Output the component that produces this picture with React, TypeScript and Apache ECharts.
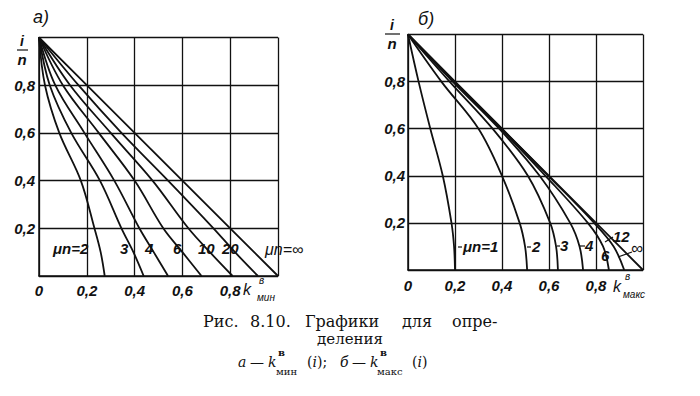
import React, { useEffect, useRef } from "react";
import * as echarts from "echarts";

// y levels (i/n) at which the curves were read
const Y_LEVELS = [1, 0.8, 0.6, 0.4, 0.2, 0.1, 0];

// Chart a: k_min^в at each Y level, per μn
const A_LABELS = ["2", "3", "4", "6", "10", "20", "∞"];
const A_MU2 = [0, 0.025, 0.085, 0.175, 0.232, 0.258, 0.275];
const A_MU3 = [0, 0.045, 0.135, 0.255, 0.345, 0.395, 0.438];
const A_MU4 = [0, 0.068, 0.19, 0.315, 0.42, 0.48, 0.54];
const A_MU6 = [0, 0.1, 0.25, 0.4, 0.52, 0.6, 0.68];
const A_MU10 = [0, 0.13, 0.3, 0.475, 0.625, 0.715, 0.81];
const A_MU20 = [0, 0.165, 0.345, 0.54, 0.73, 0.82, 0.916];
const A_INF = [0, 0.2, 0.4, 0.6, 0.8, 0.9, 1.0];

// Chart б: k_max^в at each Y level, per μn
const B_LABELS = ["1", "2", "3", "4", "6", "12", "∞"];
const B_MU1 = [0, 0.045, 0.095, 0.148, 0.185, 0.196, 0.2];
const B_MU2 = [0, 0.142, 0.3, 0.4, 0.475, 0.498, 0.507];
const B_MU3 = [0, 0.177, 0.36, 0.51, 0.605, 0.63, 0.638];
const B_MU4 = [0, 0.19, 0.388, 0.56, 0.69, 0.73, 0.745];
const B_MU6 = [0, 0.196, 0.395, 0.585, 0.765, 0.83, 0.855];
const B_MU12 = [0, 0.199, 0.399, 0.597, 0.792, 0.875, 0.92];
const B_INF = [0, 0.2, 0.4, 0.6, 0.8, 0.9, 1.0];

const A_SERIES = [A_MU2, A_MU3, A_MU4, A_MU6, A_MU10, A_MU20, A_INF];
const B_SERIES = [B_MU1, B_MU2, B_MU3, B_MU4, B_MU6, B_MU12, B_INF];

const LBL = "'Liberation Sans', Arimo, 'DejaVu Sans', sans-serif";
const CAP = "'DejaVu Serif', 'Liberation Serif', serif";
const INK = "#111";

const fmt = (v: number) => (v === 0 ? "0" : v.toFixed(1).replace(".", ","));

function axisBase(extra: any) {
  return {
    type: "value",
    min: 0,
    max: 1,
    interval: 0.2,
    axisLine: { show: true, lineStyle: { color: INK, width: 1.5 } },
    axisTick: { show: false },
    splitLine: { show: true, lineStyle: { color: INK, width: 1.3 } },
    ...extra,
  };
}

function txt(text: string, x: number, y: number, opts: any = {}) {
  return {
    type: "text",
    x,
    y,
    silent: true,
    style: {
      text,
      fill: INK,
      fontFamily: opts.family || LBL,
      fontSize: opts.size || 15,
      fontStyle: opts.italic === false ? "normal" : "italic",
      fontWeight: opts.weight || (opts.family ? "normal" : "bold"),
      align: opts.align || "left",
      verticalAlign: "middle",
      rich: opts.rich,
    },
  };
}

function seg(x1: number, y1: number, x2: number, y2: number, w = 1.2) {
  return {
    type: "line",
    silent: true,
    shape: { x1, y1, x2, y2 },
    style: { stroke: INK, lineWidth: w },
  };
}

const richParen = (s: string, x: number) =>
  txt(`{n|(}{i|i}{n|${s}}`, x, 362, {
    family: CAP,
    italic: false,
    size: 14,
    rich: {
      n: { fontFamily: CAP, fontSize: 14, fill: INK },
      i: { fontFamily: CAP, fontSize: 14, fontStyle: "italic", fill: INK },
    },
  });

export default function App() {
  const ref = useRef<HTMLDivElement>(null);

  useEffect(() => {
    if (!ref.current) return;
    const chart = echarts.init(ref.current, null, { renderer: "svg" });

    const mkSeries = (arr: number[][], idx: number, names: string[]) =>
      arr.map((xs, i) => ({
        type: "line",
        name: names[i],
        xAxisIndex: idx,
        yAxisIndex: idx,
        data: xs.map((x, j) => [x, Y_LEVELS[j]]),
        showSymbol: false,
        symbol: "none",
        smooth: i === arr.length - 1 ? false : 0.35,
        silent: true,
        lineStyle: { color: INK, width: 1.8 },
      }));

    const lab = {
      show: true,
      fontFamily: LBL,
      fontStyle: "italic",
      fontWeight: "bold",
      fontSize: 15,
      color: INK,
    };
    const xLabel = (margin: number) => ({
      ...lab,
      margin,
      formatter: (v: number) => (v >= 1 ? "" : fmt(v)),
    });
    const yLabel = (margin: number) => ({
      ...lab,
      margin,
      formatter: (v: number) => (v <= 0 || v >= 1 ? "" : fmt(v)),
    });

    const graphic: any[] = [
      // chart a annotations
      txt("а)", 33, 17, { size: 18, weight: "normal" }),
      txt("i", 22, 41, { align: "center", size: 14 }),
      seg(17, 50, 28, 50),
      txt("n", 22, 59, { align: "center", size: 15 }),
      txt("k", 243, 289, { size: 16, weight: "normal" }),
      txt("в", 259, 280, { size: 10, weight: "normal" }),
      txt("мин", 257, 297, { size: 10, weight: "normal" }),
      txt("μn=2", 53, 248),
      txt(A_LABELS[1], 120, 248),
      txt(A_LABELS[2], 145, 248),
      txt(A_LABELS[3], 173, 248),
      txt(A_LABELS[4], 198, 248),
      txt(A_LABELS[5], 222, 248),
      txt("μn=∞", 265, 249, { weight: "normal", size: 16 }),
      // chart б annotations
      txt("б)", 418, 19, { size: 18, weight: "normal" }),
      txt("i", 392, 25, { align: "center", size: 14 }),
      seg(385, 34, 400, 34),
      txt("n", 392, 43, { align: "center", size: 15 }),
      txt("k", 613, 286, { size: 16, weight: "normal" }),
      txt("в", 625, 276, { size: 10, weight: "normal" }),
      txt("макс", 623, 294, { size: 10, weight: "normal" }),
      seg(458, 247, 462, 247),
      txt("μn=" + B_LABELS[0], 463, 246),
      seg(527, 247, 531, 247),
      txt(B_LABELS[1], 532, 246),
      seg(557, 246, 560, 246),
      txt(B_LABELS[2], 560, 245),
      seg(580, 246, 585, 246),
      txt(B_LABELS[3], 585, 245),
      txt(B_LABELS[4], 601, 255),
      seg(605, 242, 613, 237),
      txt(B_LABELS[5], 613, 236),
      seg(618, 257, 632, 252),
      txt(B_LABELS[6], 631, 248, { size: 17, weight: "normal" }),
      // caption
      txt("Рис.", 203, 321, { family: CAP, italic: false, size: 16 }),
      txt("8.10.", 250, 321, { family: CAP, italic: false, size: 16 }),
      txt("Графики", 342, 321, { family: CAP, italic: false, size: 16, align: "center" }),
      txt("для", 402, 321, { family: CAP, italic: false, size: 16 }),
      txt("опре-", 452, 321, { family: CAP, italic: false, size: 16 }),
      txt("деления", 350, 339, { family: CAP, italic: false, size: 15, align: "center" }),
      txt("а", 238, 362, { family: CAP, size: 14 }),
      txt("—", 250, 362, { family: CAP, italic: false, size: 14 }),
      txt("k", 268, 362, { family: CAP, size: 14 }),
      txt("в", 278, 352, { family: CAP, italic: false, size: 10, weight: "bold" }),
      txt("мин", 276, 371, { family: CAP, italic: false, size: 10 }),
      richParen(");", 307),
      txt("б", 340, 362, { family: CAP, size: 14 }),
      txt("—", 352, 362, { family: CAP, italic: false, size: 14 }),
      txt("k", 370, 362, { family: CAP, size: 14 }),
      txt("в", 380, 352, { family: CAP, italic: false, size: 10, weight: "bold" }),
      txt("макс", 377, 371, { family: CAP, italic: false, size: 10 }),
      richParen(")", 412),
    ];

    chart.setOption({
      animation: false,
      backgroundColor: "#fff",
      grid: [
        { left: 39, top: 37.5, width: 239, height: 238.5, outerBoundsMode: "none" },
        { left: 408, top: 34.5, width: 235, height: 235.5, outerBoundsMode: "none" },
      ],
      xAxis: [
        axisBase({ gridIndex: 0, axisLabel: xLabel(7) }),
        axisBase({ gridIndex: 1, axisLabel: xLabel(8) }),
      ],
      yAxis: [
        axisBase({ gridIndex: 0, axisLabel: yLabel(4) }),
        axisBase({ gridIndex: 1, axisLabel: yLabel(3) }),
      ],
      series: [
        ...mkSeries(A_SERIES, 0, A_LABELS),
        ...mkSeries(B_SERIES, 1, B_LABELS),
      ],
      graphic,
    });

    return () => chart.dispose();
  }, []);

  return (
    <div
      ref={ref}
      style={{ position: "fixed", left: 0, top: 0, width: 700, height: 396, background: "#fff" }}
    />
  );
}
